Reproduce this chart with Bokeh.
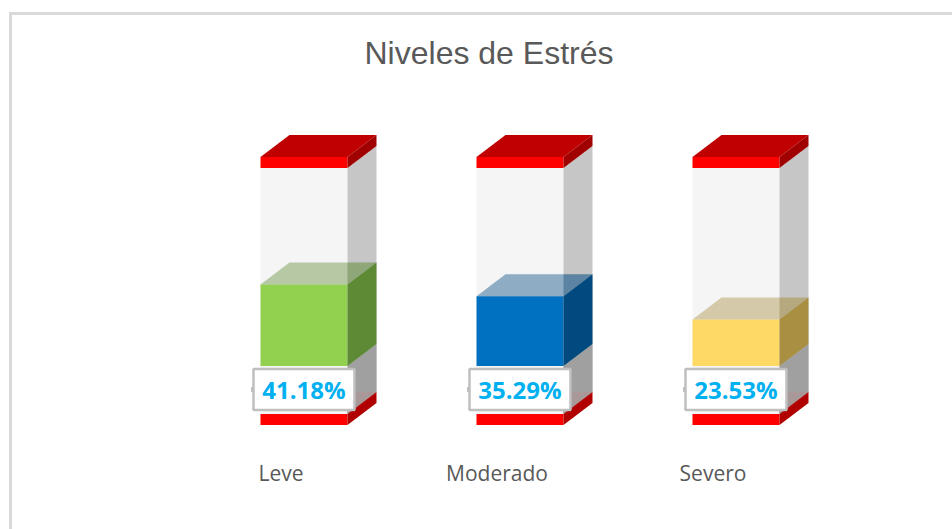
from bokeh.plotting import figure
from bokeh.embed import file_html
from bokeh.resources import INLINE
from bokeh.models import FixedTicker, Range1d
from bokeh.core.properties import value as fixed

categories = ["Leve", "Moderado", "Severo"]
values = [41.18, 35.29, 23.53]
tick_positions = [0, 1, 2]
front_colors = ["#92d050", "#0070c0", "#ffd966"]
side_colors = ["#5f8a35", "#004a80", "#a88f42"]

# scale: one category = 216 px, one percent = 1.98 px
PX_X = 216.0
PX_Y = 1.98
FRAME_L, FRAME_R, FRAME_T, FRAME_B = 25, 952, 88, 448
AX0 = 280.5   # page x of category tick 0
Y0 = 365.5    # page y of 0 %

x_shift = 23.0 / PX_X        # column centre relative to tick
half_w = 43.5 / PX_X
depth_x = 29 / PX_X
depth_y = 22 / PX_Y
cap_h = 11 / PX_Y
floor_top = -48 / PX_Y
floor_bot = -59 / PX_Y

p = figure(frame_width=FRAME_R - FRAME_L, frame_height=FRAME_B - FRAME_T,
           output_backend="svg", toolbar_location=None, min_border=0,
           min_border_left=13, min_border_right=0, min_border_bottom=81,
           x_range=Range1d((FRAME_L - AX0) / PX_X, (FRAME_R - AX0) / PX_X),
           y_range=Range1d((Y0 - FRAME_B) / PX_Y, (Y0 - FRAME_T) / PX_Y),
           title="Niveles de Estrés", background_fill_color="white",
           border_fill_color="white")
p.styles = {"border-top": "3px solid #d9d9d9", "border-left": "3px solid #d9d9d9",
            "margin-left": "9px", "margin-top": "12px"}
p.outline_line_color = None
p.grid.visible = False
p.yaxis.visible = False
p.title.align = "center"
p.title.text_font = "Liberation Sans"
p.title.text_font_size = "32px"
p.title.text_font_style = "normal"
p.title.text_color = "#595959"
p.title.standoff = 35

ax = p.xaxis[0]
ax.ticker = FixedTicker(ticks=tick_positions)
ax.major_label_overrides = {t: c for t, c in zip(tick_positions, categories)}
ax.axis_line_color = None
ax.major_tick_line_color = None
ax.minor_tick_line_color = None
ax.major_label_standoff = 4
ax.major_label_text_font = "Open Sans"
ax.major_label_text_font_size = "21px"
ax.major_label_text_color = "#595959"


def poly(xs, ys, color, alpha=1.0):
    p.patch(xs, ys, fill_color=color, fill_alpha=alpha, line_color=None)


for t, val, fc, sc in zip(tick_positions, values, front_colors, side_colors):
    l = t + x_shift - half_w
    r = t + x_shift + half_w
    rr = r + depth_x
    ll = l + depth_x
    # glass body
    poly([l, r, r, l], [100, 100, floor_top, floor_top], "#f5f5f5")
    poly([r, rr, rr, r], [100, 100 + depth_y, floor_top + depth_y, floor_top], "#c6c6c6")
    # shade below the baseline
    poly([r, rr, rr, r], [0, depth_y, floor_top + depth_y, floor_top], "#a0a0a0")
    poly([r, rr, r], [floor_top, floor_top + depth_y, floor_top + depth_y], "#a89898")
    # floor
    poly([l, r, r, l], [floor_bot, floor_bot, floor_top, floor_top], "#ff0000")
    poly([r, rr, rr, r], [floor_bot, floor_bot + depth_y, floor_top + depth_y, floor_top], "#b00000")
    # cap
    poly([l, r, r, l], [100, 100, 100 + cap_h, 100 + cap_h], "#ff0000")
    poly([l, ll, rr, r], [100 + cap_h, 100 + cap_h + depth_y, 100 + cap_h + depth_y, 100 + cap_h], "#c00000")
    poly([r, rr, rr, r], [100, 100 + depth_y, 100 + cap_h + depth_y, 100 + cap_h], "#a00000")
    # value bar
    poly([l, r, r, l], [0, 0, val, val], fc)
    poly([r, rr, rr, r], [0, depth_y, val + depth_y, val], sc)
    poly([l, ll, rr, r], [val, val + depth_y, val + depth_y, val], sc, 0.42)
    poly([r, r, rr], [val, val + depth_y, val + depth_y], sc, 0.2)
    # data label
    cx = t + 23 / PX_X
    cy = -23.5 / PX_Y
    p.segment([cx - 52 / PX_X], [cy + 2.5 / PX_Y], [cx - 52 / PX_X], [cy - 2.5 / PX_Y],
              line_color="#c0c0c0", line_width=2)
    p.quad(left=[cx - 50.5 / PX_X], right=[cx + 50.5 / PX_X],
           bottom=[cy - 20.5 / PX_Y], top=[cy + 20.5 / PX_Y],
           fill_color="white", line_color="#bfbfbf", line_width=2.5)
    p.text([cx], [cy], text=[f"{val:.2f}%"], text_align="center", text_baseline="middle",
           text_font=fixed("Open Sans"), text_font_style="bold", text_font_size="24px",
           text_color="#00b0f0")

open("out.html", "w").write(file_html(p, INLINE))
